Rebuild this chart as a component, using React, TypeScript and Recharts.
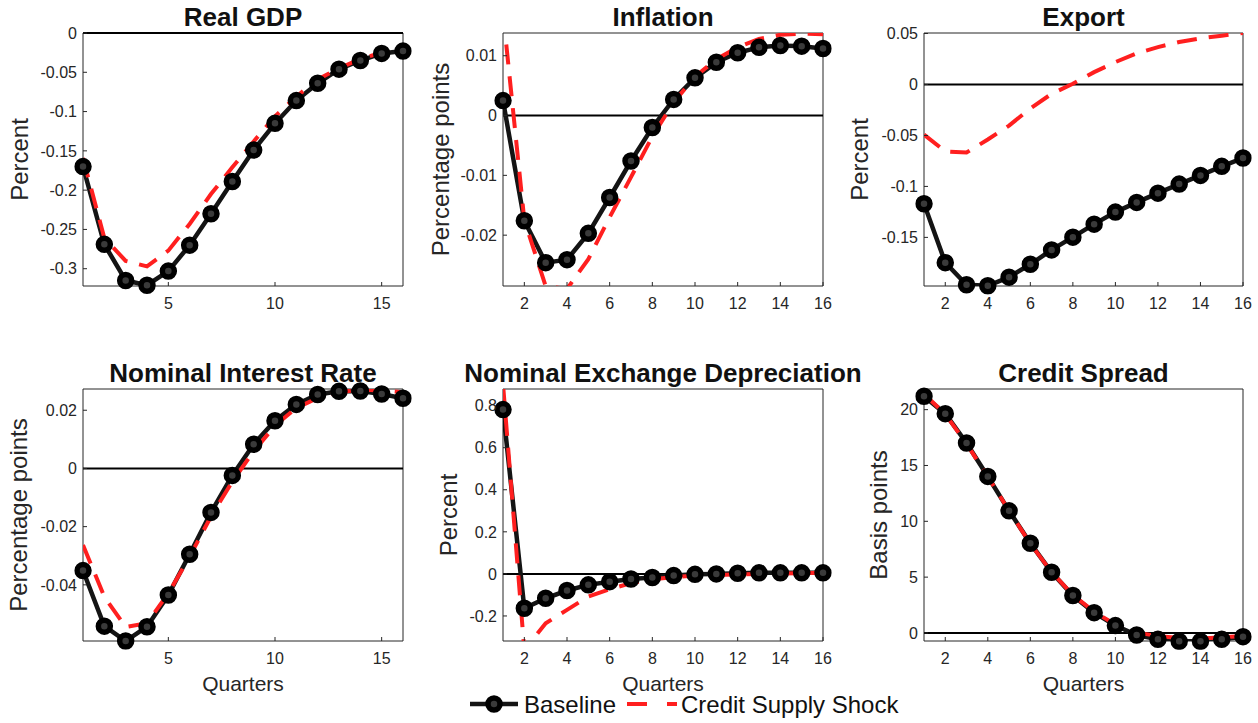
import React from 'react';
import { LineChart, Line, XAxis, YAxis, ReferenceLine, ReferenceArea } from 'recharts';

const quarters = [1, 2, 3, 4, 5, 6, 7, 8, 9, 10, 11, 12, 13, 14, 15, 16];

const gdpBase = [-0.170, -0.269, -0.315, -0.321, -0.303, -0.270, -0.230, -0.189, -0.149, -0.115, -0.086, -0.064, -0.046, -0.035, -0.026, -0.023];
const gdpShock = [-0.159, -0.261, -0.290, -0.297, -0.277, -0.243, -0.205, -0.171, -0.138, -0.106, -0.081, -0.059, -0.045, -0.033, -0.025, -0.021];

const inflBase = [0.0025, -0.0176, -0.0246, -0.0241, -0.0197, -0.0137, -0.0076, -0.0020, 0.0027, 0.0063, 0.0089, 0.0105, 0.0114, 0.0117, 0.0116, 0.0112];
const inflShock = [0.0172, -0.0175, -0.0285, -0.0290, -0.0240, -0.0170, -0.0103, -0.0035, 0.0022, 0.0065, 0.0094, 0.0114, 0.0128, 0.0135, 0.0137, 0.0136];

const exportBase = [-0.117, -0.1748, -0.1965, -0.1975, -0.189, -0.1764, -0.1623, -0.1498, -0.137, -0.1252, -0.1157, -0.1066, -0.0977, -0.0892, -0.0803, -0.0721];
const exportShock = [-0.0492, -0.0656, -0.0668, -0.054, -0.0403, -0.0235, -0.0092, 0.0007, 0.0121, 0.022, 0.0305, 0.0367, 0.0416, 0.0452, 0.0479, 0.0505];

const rateBase = [-0.0351, -0.0542, -0.0593, -0.0544, -0.0435, -0.0295, -0.0151, -0.0024, 0.0083, 0.0164, 0.0220, 0.0254, 0.0265, 0.0266, 0.0256, 0.0241];
const rateShock = [-0.0263, -0.0441, -0.0545, -0.0532, -0.0429, -0.0303, -0.0165, -0.0045, 0.0059, 0.0147, 0.0208, 0.0242, 0.0262, 0.0271, 0.0268, 0.0262];

const fxBase = [0.781, -0.1635, -0.116, -0.079, -0.052, -0.037, -0.024, -0.017, -0.008, -0.002, 0.0, 0.003, 0.005, 0.005, 0.005, 0.005];
const fxShock = [0.903, -0.362, -0.235, -0.171, -0.108, -0.073, -0.044, -0.025, -0.016, -0.008, -0.005, -0.002, 0.0, 0.002, 0.003, 0.005];

const spreadBase = [21.2, 19.64, 17.01, 14.02, 10.94, 8.04, 5.44, 3.35, 1.82, 0.66, -0.18, -0.57, -0.75, -0.75, -0.57, -0.33];
const spreadShock = [21.4, 19.6, 16.95, 14.0, 10.95, 8.0, 5.45, 3.4, 1.9, 0.75, 0.03, -0.27, -0.45, -0.5, -0.39, -0.27];

const ticksBy5 = [5, 10, 15];
const ticksBy2 = [2, 4, 6, 8, 10, 12, 14, 16];

const FONT = '"Liberation Sans", Arial, Helvetica, sans-serif';
const AXIS = '#262626';
const RED = '#ff1f1f';

type Panel = {
  title: string;
  ylabel: string;
  base: number[];
  shock: number[];
  domain: [number, number];
  yTicks: number[];
  xTicks: number[];
  box: [number, number, number, number]; // left, top, right, bottom
  labelX: number;
  xlabel: boolean;
};

const panels: Panel[] = [
  { title: 'Real GDP', ylabel: 'Percent', base: gdpBase, shock: gdpShock, domain: [-0.322, 0], yTicks: [-0.3, -0.25, -0.2, -0.15, -0.1, -0.05, 0], xTicks: ticksBy5, box: [83, 33, 403, 286], labelX: 28, xlabel: false },
  { title: 'Inflation', ylabel: 'Percentage points', base: inflBase, shock: inflShock, domain: [-0.0285, 0.0138], yTicks: [-0.02, -0.01, 0, 0.01], xTicks: ticksBy2, box: [503, 33, 823, 286], labelX: 449, xlabel: false },
  { title: 'Export', ylabel: 'Percent', base: exportBase, shock: exportShock, domain: [-0.1977, 0.0505], yTicks: [-0.15, -0.1, -0.05, 0, 0.05], xTicks: ticksBy2, box: [924, 33, 1243, 286], labelX: 868, xlabel: false },
  { title: 'Nominal Interest Rate', ylabel: 'Percentage points', base: rateBase, shock: rateShock, domain: [-0.0593, 0.0273], yTicks: [-0.04, -0.02, 0, 0.02], xTicks: ticksBy5, box: [83, 389, 403, 641], labelX: 27, xlabel: true },
  { title: 'Nominal Exchange Depreciation', ylabel: 'Percent', base: fxBase, shock: fxShock, domain: [-0.319, 0.879], yTicks: [-0.2, 0, 0.2, 0.4, 0.6, 0.8], xTicks: ticksBy2, box: [503, 389, 823, 641], labelX: 457, xlabel: true },
  { title: 'Credit Spread', ylabel: 'Basis points', base: spreadBase, shock: spreadShock, domain: [-0.72, 21.85], yTicks: [0, 5, 10, 15, 20], xTicks: ticksBy2, box: [924, 389, 1243, 641], labelX: 887, xlabel: true },
];

const tickStyle = { fill: AXIS, fontSize: 16, fontFamily: FONT };
const tickLineStyle = { stroke: AXIS, strokeWidth: 1 };

function IrfPanel({ p }: { p: Panel }) {
  const data = quarters.map((q, i) => ({ q, base: p.base[i], shock: p.shock[i] }));
  const w = p.box[2] - p.box[0];
  const h = p.box[3] - p.box[1];
  return (
    <div style={{ position: 'absolute', left: p.box[0] - 80, top: p.box[1] - 10 }}>
      <LineChart width={w + 100} height={h + 50} data={data} margin={{ top: 10, right: 20, bottom: 0, left: 0 }}>
        <XAxis dataKey="q" type="number" domain={[1, 16]} ticks={p.xTicks} interval={0} allowDataOverflow
          height={40} tickSize={-4} tickMargin={16} axisLine={false} tickLine={tickLineStyle} tick={tickStyle} />
        <XAxis xAxisId="top" orientation="top" dataKey="q" type="number" domain={[1, 16]} ticks={p.xTicks}
          interval={0} allowDataOverflow height={0} tickSize={-4} tick={false} axisLine={false} tickLine={tickLineStyle} />
        <YAxis type="number" domain={p.domain} ticks={p.yTicks} interval={0} allowDataOverflow
          width={80} tickSize={-4} tickMargin={10} axisLine={false} tickLine={tickLineStyle} tick={tickStyle} />
        <YAxis yAxisId="right" orientation="right" type="number" domain={p.domain} ticks={p.yTicks}
          interval={0} allowDataOverflow width={0} tickSize={-4} tick={false} axisLine={false} tickLine={tickLineStyle} />
        <ReferenceArea x1={1} x2={16} y1={p.domain[0]} y2={p.domain[1]} fill="none" fillOpacity={0}
          stroke={AXIS} strokeWidth={1} ifOverflow="visible" />
        <ReferenceLine y={0} stroke="#000" strokeWidth={2} />
        <Line type="linear" dataKey="base" stroke="#141414" strokeWidth={4.5}
          dot={{ r: 6, stroke: '#000', strokeWidth: 5.5, fill: '#3a3a3a', clipDot: false }}
          activeDot={false} isAnimationActive={false} />
        <Line type="linear" dataKey="shock" stroke={RED} strokeWidth={4} strokeDasharray="20 12"
          dot={false} activeDot={false} isAnimationActive={false} />
      </LineChart>
    </div>
  );
}

export default function App() {
  return (
    <div style={{ position: 'absolute', left: 0, top: 0, width: 1258, height: 723, overflow: 'hidden', background: '#fff', fontFamily: FONT }}>
      {panels.map((p) => <IrfPanel key={p.title} p={p} />)}
      <svg width={1258} height={723} style={{ position: 'absolute', left: 0, top: 0, pointerEvents: 'none' }}>
        {panels.map((p) => {
          const cx = (p.box[0] + p.box[2]) / 2;
          const cy = (p.box[1] + p.box[3]) / 2;
          return (
            <g key={p.title}>
              <text x={cx} y={p.box[1] - 7} textAnchor="middle" fontFamily={FONT} fontSize={26} fontWeight="bold" fill="#111">{p.title}</text>
              <text x={p.labelX} y={cy} transform={`rotate(-90 ${p.labelX} ${cy})`} textAnchor="middle" fontFamily={FONT} fontSize={24} fill={AXIS}>{p.ylabel}</text>
              {p.xlabel && <text x={cx} y={691} textAnchor="middle" fontFamily={FONT} fontSize={21} fill={AXIS}>Quarters</text>}
            </g>
          );
        })}
        <line x1={470} y1={704} x2={518} y2={704} stroke="#141414" strokeWidth={4.5} />
        <circle cx={494} cy={704} r={6} stroke="#000" strokeWidth={5.5} fill="#3a3a3a" />
        <text x={524} y={713} fontFamily={FONT} fontSize={24} fill="#111">Baseline</text>
        <line x1={627} y1={704} x2={677} y2={704} stroke={RED} strokeWidth={4} strokeDasharray="20 20" />
        <text x={681} y={713} fontFamily={FONT} fontSize={24} fill="#111">Credit Supply Shock</text>
      </svg>
    </div>
  );
}
